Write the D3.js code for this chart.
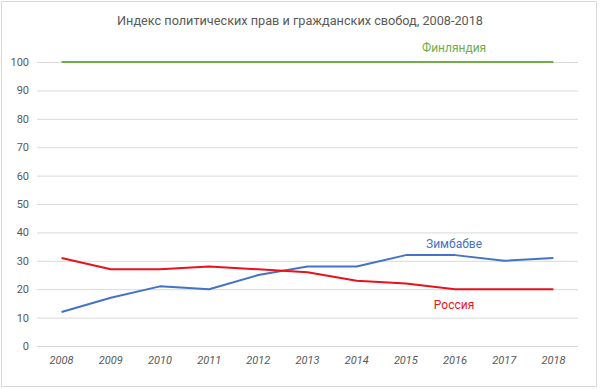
<!DOCTYPE html>
<html><head><meta charset="utf-8">
<script src="https://cdn.jsdelivr.net/npm/d3@7"></script>
<style>body{margin:0;background:#fff}svg{display:block}</style>
</head><body>
<svg id="c" width="600" height="389"></svg>
<script>
const years = ["2008","2009","2010","2011","2012","2013","2014","2015","2016","2017","2018"];
const finland = [100,100,100,100,100,100,100,100,100,100,100];
const zimbabwe = [12,17,21,20,25,28,28,32,32,30,31];
const russia = [31,27,27,28,27,26,23,22,20,20,20];
const yTicks = [0,10,20,30,40,50,60,70,80,90,100];
const title = "Индекс политических прав и гражданских свобод, 2008-2018";

const svg = d3.select("#c");
svg.append("rect").attr("x",1.5).attr("y",1.5).attr("width",595).attr("height",385)
  .attr("fill","#fff").attr("stroke","#d9d9d9");

const x = d3.scaleBand().domain(years).range([37,578]);
const y = d3.scaleLinear().domain([0,100]).range([346,62]);
const font = "Roboto, 'Liberation Sans', sans-serif";

svg.append("text").attr("x",300).attr("y",25).attr("text-anchor","middle")
  .attr("font-family",font).attr("font-size",12.7).attr("fill","#595959").text(title);

const ya = svg.append("g").attr("transform","translate(37,0)")
  .call(d3.axisLeft(y).tickValues(yTicks).tickSize(-541).tickPadding(8));
ya.select(".domain").remove();
ya.selectAll("line").attr("stroke","#d9d9d9");
ya.selectAll("text").attr("font-family",font).attr("font-size",11).attr("fill","#595959");

const xa = svg.append("g").attr("transform","translate(0,346)")
  .call(d3.axisBottom(x).tickSize(0).tickPadding(10));
xa.select(".domain").remove();
xa.selectAll("text").attr("font-family",font).attr("font-size",11).attr("fill","#595959")
  .attr("font-style","italic");

const line = d3.line().x((d,i)=>x(years[i])+x.bandwidth()/2).y(d=>y(d));
const series = [
  {v:finland,c:"#70ad47",name:"Финляндия",lx:"2016",lv:105},
  {v:zimbabwe,c:"#4472c4",name:"Зимбабве",lx:"2016",lv:36},
  {v:russia,c:"#e8121c",name:"Россия",lx:"2016",lv:14.5}
];
series.forEach(s=>{
  svg.append("path").datum(s.v).attr("d",line).attr("fill","none")
    .attr("stroke",s.c).attr("stroke-width",2).attr("stroke-linejoin","round");
  svg.append("text").attr("x",x(s.lx)+x.bandwidth()/2-1).attr("y",y(s.lv)+4)
    .attr("text-anchor","middle").attr("font-family",font).attr("font-size",12)
    .attr("font-weight",400).attr("fill",s.c).text(s.name);
});
</script>
</body></html>
